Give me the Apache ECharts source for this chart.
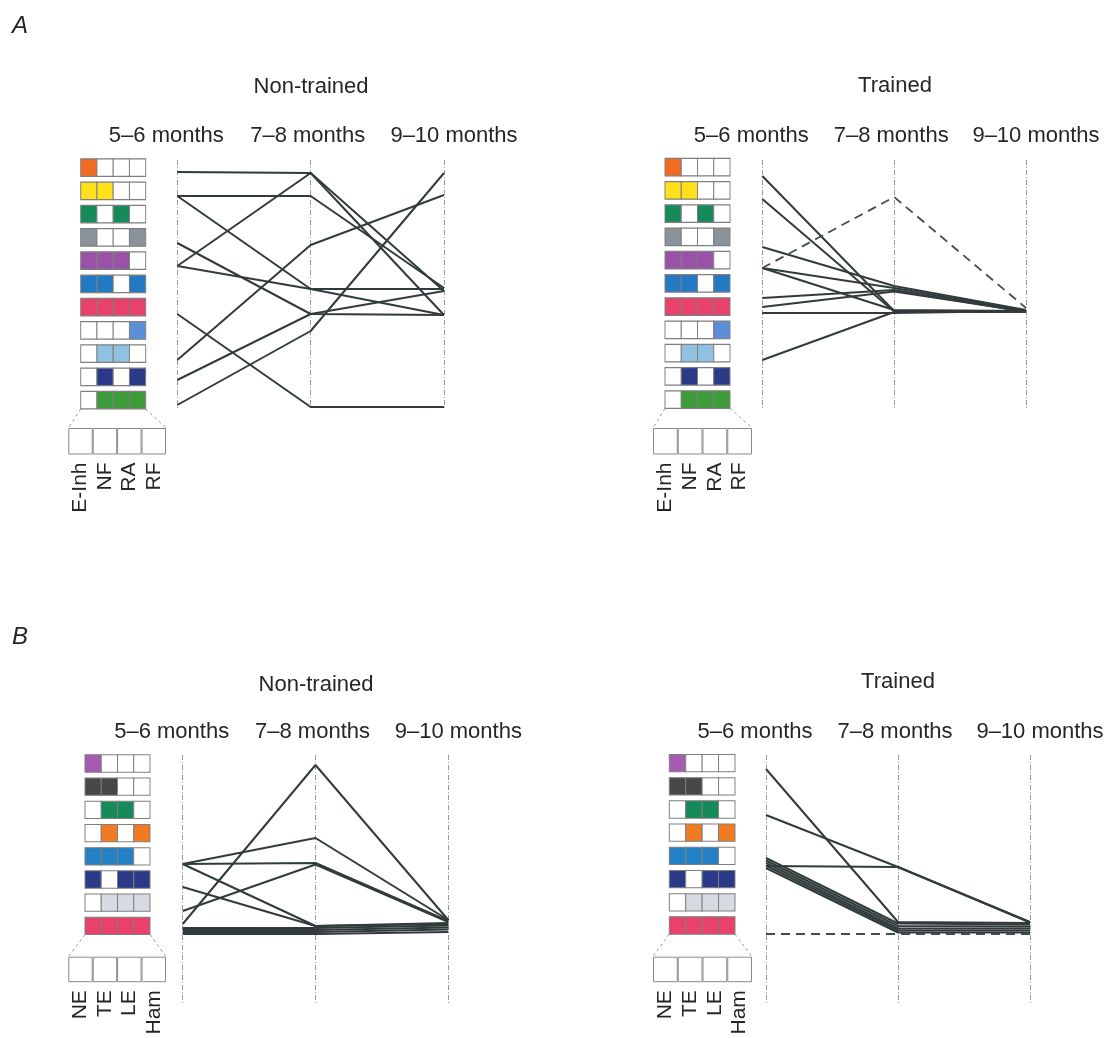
<!DOCTYPE html>
<html><head><meta charset="utf-8">
<script src="https://cdn.jsdelivr.net/npm/echarts@6/dist/echarts.min.js"></script>
<style>html,body{margin:0;padding:0;background:#fff}#c{width:1113px;height:1038px}</style>
</head><body><div id="c"></div>
<script>
// ---------- data ----------
const months = ['5–6 months', '7–8 months', '9–10 months'];
const aCols = ['E-Inh', 'NF', 'RA', 'RF'];
const bCols = ['NE', 'TE', 'LE', 'Ham'];
const aRowColors = ['#f26b21', '#ffe01b', '#178a5c', '#8a929a', '#9a52a8', '#2379c3', '#e8416b', '#5d8fd8', '#90c1e1', '#2b3a88', '#3d9b3a'];
const aRowMask = [[1,0,0,0],[1,1,0,0],[1,0,1,0],[1,0,0,1],[1,1,1,0],[1,1,0,1],[1,1,1,1],[0,0,0,1],[0,1,1,0],[0,1,0,1],[0,1,1,1]];
const bRowColors = ['#a45bb1', '#474747', '#178a5c', '#f27a22', '#2581c6', '#2b3a88', '#d6dbe1', '#e8416b'];
const bRowMask = [[1,0,0,0],[1,1,0,0],[0,1,1,0],[0,1,0,1],[1,1,1,0],[1,0,1,1],[0,1,1,1],[1,1,1,1]];
// trajectories: position on a 0–100 scale (0 = top of axes) at 5–6, 7–8, 9–10 months
const aNonTrained = [
  [4.8, 5.2, 52.4], [42.4, 5.2, 62], [14.4, 14.4, 51.2], [14.4, 51.6, 51.6], [42.4, 51.6, 62],
  [33.2, 61.6, 62], [88, 61.6, 52.4], [98, 68.4, 5.2], [80, 34, 14], [61.6, 98.8, 98.8]
];
const aTrained = [
  [6.4, 60.4, 60.4], [15.6, 60.6, 60.8], [34.8, 50.4, 60.0], [43.2, 51.2, 60.4], [43.2, 60.0, 60.4],
  [55.2, 52.0, 60.8], [58.8, 52.6, 60.6], [61.2, 61.2, 60.4], [80, 60.8, 60.8]
];
const aTrainedDashed = [[43.2, 14.8, 59.2]];
const bNonTrained = [
  [67.6, 4, 66], [43.6, 33.2, 66], [43.6, 43.2, 66.4], [62.4, 43.8, 66.8], [43.6, 68.4, 67.2],
  [52.8, 68.4, 67.6], [69.2, 69.2, 68.2], [70.0, 70.0, 69.0], [70.8, 70.8, 69.8], [71.6, 71.6, 70.8]
];
const bTrained = [
  [5.6, 66.8, 67.2], [24, 44.8, 66.8], [44.4, 44.8, 67.0], [41.2, 67.4, 67.8],
  [42.2, 68.4, 68.6], [43.2, 69.4, 69.4], [44.2, 70.2, 70.2], [45.2, 71.0, 71.0]
];
const bTrainedDashed = [[71.6, 71.6, 71.6]];

// ---------- layout ----------
const FONT = 'Liberation Sans, Arial, sans-serif';
const TXT = '#262626';
const LINE = '#323b3b';
const panels = [
  { line: {left: 177.3, top: 160, width: 266.7, height: 250}, lab: 13, lines: aNonTrained, dashed: [],
    leg: {left: 80.7, top: 156, width: 65, height: 255.75}, rows: aRowMask, colors: aRowColors, cellH: 17.5,
    box: {left: 68.3, top: 428, width: 97.7, height: 26.5}, cols: aCols },
  { line: {left: 762.3, top: 160, width: 263.7, height: 250}, lab: 13, lines: aTrained, dashed: aTrainedDashed,
    leg: {left: 665, top: 155.5, width: 65, height: 255.75}, rows: aRowMask, colors: aRowColors, cellH: 17.5,
    box: {left: 653, top: 428, width: 99, height: 26.5}, cols: aCols },
  { line: {left: 182.7, top: 755, width: 265.6, height: 250}, lab: 12, lines: bNonTrained, dashed: [],
    leg: {left: 85, top: 751.9, width: 65, height: 185.6}, rows: bRowMask, colors: bRowColors, cellH: 17.3,
    box: {left: 68.3, top: 956.7, width: 97.7, height: 25.5}, cols: bCols },
  { line: {left: 766, top: 755, width: 264, height: 250}, lab: 12, lines: bTrained, dashed: bTrainedDashed,
    leg: {left: 669.3, top: 751.5, width: 65.7, height: 185.6}, rows: bRowMask, colors: bRowColors, cellH: 17.3,
    box: {left: 653, top: 956.7, width: 99, height: 25.5}, cols: bCols }
];

const MFS = 22;
const grid = [], xAxis = [], yAxis = [], series = [], graphic = [];
panels.forEach((p, pi) => {
  // line grid
  let gi = grid.length;
  grid.push(p.line);
  xAxis.push({
    gridIndex: gi, type: 'category', data: months, boundaryGap: false, position: 'top',
    axisLine: {show: false}, axisTick: {show: false},
    axisLabel: {
      interval: 0, margin: p.lab, color: TXT, fontFamily: FONT, fontSize: MFS,
      formatter: (v, i) => (i === 0 ? '{l|' : i === 2 ? '{r|' : '{m|') + v + '}',
      rich: {
        l: {padding: [0, 22, 0, 0], fontSize: MFS, fontFamily: FONT, color: TXT},
        m: {padding: [0, 6, 0, 0], fontSize: MFS, fontFamily: FONT, color: TXT},
        r: {padding: [0, 0, 0, 20], fontSize: MFS, fontFamily: FONT, color: TXT}
      }
    },
    splitLine: {show: true, lineStyle: {color: '#9a9a9a', width: 1, type: [5, 2, 1, 2]}}
  });
  yAxis.push({gridIndex: gi, type: 'value', min: 0, max: 100, inverse: true, show: false});
  p.lines.forEach(d => series.push({
    type: 'line', xAxisIndex: gi, yAxisIndex: gi, data: d, symbol: 'none', silent: true,
    lineStyle: {color: LINE, width: 2}
  }));
  p.dashed.forEach(d => series.push({
    type: 'line', xAxisIndex: gi, yAxisIndex: gi, data: d, symbol: 'none', silent: true,
    lineStyle: {color: '#444d4c', width: 1.8, type: [9, 6]}
  }));

  // legend rows grid
  gi = grid.length;
  grid.push(p.leg);
  xAxis.push({gridIndex: gi, type: 'category', data: [0, 1, 2, 3], show: false});
  yAxis.push({gridIndex: gi, type: 'category', data: p.rows.map((_, i) => i), inverse: true, show: false});
  const cells = [];
  p.rows.forEach((mask, r) => mask.forEach((m, c) => cells.push({
    value: [c, r], itemStyle: {color: m ? p.colors[r] : '#ffffff'}
  })));
  series.push({
    type: 'scatter', xAxisIndex: gi, yAxisIndex: gi, data: cells, symbol: 'rect',
    symbolSize: [p.leg.width / 4, p.cellH], silent: true,
    itemStyle: {borderColor: '#7f7f7f', borderWidth: 1, opacity: 1}
  });

  // big empty box with column labels
  gi = grid.length;
  grid.push(p.box);
  xAxis.push({
    gridIndex: gi, type: 'category', data: p.cols,
    axisLine: {show: false}, axisTick: {show: false},
    axisLabel: {interval: 0, rotate: 90, margin: 8, color: TXT, fontFamily: FONT, fontSize: 21}
  });
  yAxis.push({gridIndex: gi, type: 'value', min: 0, max: 1, show: false});
  series.push({
    type: 'bar', xAxisIndex: gi, yAxisIndex: gi, data: p.cols.map(() => 1), barCategoryGap: '0%',
    silent: true, itemStyle: {color: '#ffffff', borderColor: '#8a8a8a', borderWidth: 1}
  });

  // dashed connectors legend -> box
  const legBottom = p.leg.top + p.leg.height - (p.leg.height / p.rows.length - p.cellH) / 2;
  [[p.leg.left, p.box.left], [p.leg.left + p.leg.width, p.box.left + p.box.width]].forEach(([x1, x2]) => {
    graphic.push({type: 'line', silent: true,
      shape: {x1: x1, y1: legBottom, x2: x2, y2: p.box.top},
      style: {stroke: '#9a9a9a', lineWidth: 1, lineDash: [3, 3]}});
  });
});

const texts = [
  ['A', 20, 26, 24, 'italic'], ['B', 20, 637, 24, 'italic'],
  ['Non-trained', 311, 87, 22, 'normal'], ['Trained', 895, 86, 22, 'normal'],
  ['Non-trained', 316, 685, 22, 'normal'], ['Trained', 898, 682, 22, 'normal']
];
texts.forEach(([t, x, y, fs, st]) => graphic.push({
  type: 'text', x: x, y: y, silent: true,
  style: {text: t, fontSize: fs, fontStyle: st, fontFamily: FONT, fill: TXT, align: 'center', verticalAlign: 'middle'}
}));

const chart = echarts.init(document.getElementById('c'), null, {renderer: 'canvas'});
chart.setOption({backgroundColor: '#ffffff', animation: false, grid, xAxis, yAxis, series, graphic});
</script>
</body></html>
